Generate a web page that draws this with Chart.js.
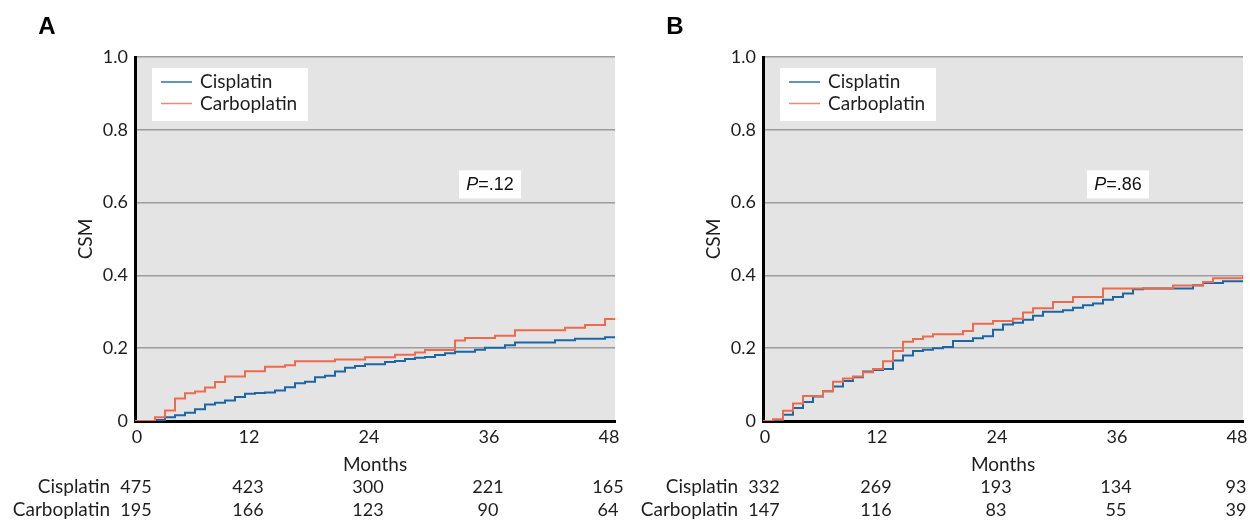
<!DOCTYPE html>
<html><head><meta charset="utf-8">
<script src="https://cdn.jsdelivr.net/npm/chart.js@4.4.1/dist/chart.umd.min.js"></script>
<style>
html,body{margin:0;padding:0;background:#fff;width:1250px;height:523px;overflow:hidden}
#wa{position:absolute;left:0;top:0;width:625px;height:523px}
#wb{position:absolute;left:628px;top:0;width:625px;height:523px}
</style></head><body>
<div id="wa"><canvas id="ca"></canvas></div>
<div id="wb"><canvas id="cb"></canvas></div>
<script>
// ---- data ----
const monthTicks = [0, 12, 24, 36, 48];
const seriesNames = ['Cisplatin', 'Carboplatin'];

const cisA_months = [0,2,3,4,5,6,7,8,9,10,11,12,13,14,15,16,17,18,19,20,21,22,23,25,26,27,28,29,30,31,32,34,35,37,38,42,44,47,48];
const cisA_values = [0,0.003,0.010,0.016,0.023,0.032,0.045,0.050,0.056,0.066,0.075,0.077,0.078,0.084,0.093,0.104,0.108,0.120,0.124,0.136,0.146,0.151,0.156,0.162,0.165,0.170,0.174,0.176,0.181,0.186,0.190,0.196,0.201,0.208,0.216,0.222,0.226,0.230,0.230];

const carA_months = [0,2,3,4,5,6,7,8,9,11,13,15,16,20,23,26,28,29,32,33,36,38,43,45,47,48];
const carA_values = [0,0.010,0.029,0.062,0.076,0.081,0.092,0.107,0.122,0.137,0.149,0.153,0.164,0.169,0.175,0.182,0.188,0.195,0.221,0.228,0.234,0.249,0.256,0.264,0.280,0.280];

const cisB_months = [0,2,3,4,5,6,7,8,9,10,11,12,13,14,15,16,17,18,19,21,22,23,24,25,26,27,28,30,31,32,33,34,35,36,37,38,43,44,46,48];
const cisB_values = [0,0.017,0.036,0.052,0.067,0.082,0.095,0.110,0.120,0.136,0.140,0.143,0.166,0.180,0.192,0.196,0.200,0.203,0.220,0.227,0.233,0.251,0.265,0.270,0.278,0.289,0.300,0.304,0.311,0.318,0.323,0.333,0.341,0.350,0.362,0.364,0.373,0.379,0.384,0.387];

const carB_months = [0,1,2,3,4,6,7,8,9,10,11,12,13,14,15,16,17,20,21,23,25,26,27,29,31,34,41,44,45,48];
const carB_values = [0,0.005,0.028,0.048,0.069,0.082,0.108,0.117,0.122,0.134,0.143,0.164,0.192,0.218,0.225,0.232,0.238,0.247,0.267,0.275,0.281,0.298,0.310,0.327,0.341,0.364,0.372,0.382,0.392,0.401];

const riskA_cis = [475, 423, 300, 221, 165];
const riskA_car = [195, 166, 123, 90, 64];
const riskB_cis = [332, 269, 193, 134, 93];
const riskB_car = [147, 116, 83, 55, 39];

const pA = '.12';
const pB = '.86';

// ---- styles ----
const BLUE = '#1c67a3';
const ORANGE = '#ee6a4c';
const FONT = 'Lato, "Noto Sans", sans-serif';
const TXT = '#1e1e1e';

function toPts(m, v) { return m.map((x, i) => ({x: x, y: v[i]})); }
function colShift(t) { return t === 0 ? 2 : -6; }

function makeChart(id, letter, cm, cv, om, ov, rc, ro, pval) {
  const deco = {
    id: 'deco' + id,
    beforeDraw(chart) {
      const {ctx, chartArea: a} = chart;
      ctx.save();
      ctx.fillStyle = '#e4e4e4';
      ctx.fillRect(a.left, a.top, a.right - a.left, a.bottom - a.top);
      ctx.restore();
    },
    afterDatasetsDraw(chart) {
      const {ctx, chartArea: a, scales} = chart;
      ctx.save();
      // legend
      const lx = a.left + 17, ly = a.top + 11;
      ctx.fillStyle = '#fff';
      ctx.fillRect(lx, ly, 156, 53);
      const cols = ['#2a70ac', '#f08a78'];
      seriesNames.forEach((n, i) => {
        const yy = ly + 14 + i * 21.5;
        ctx.strokeStyle = cols[i];
        ctx.lineWidth = 1.5;
        ctx.beginPath();
        ctx.moveTo(lx + 9, yy); ctx.lineTo(lx + 40, yy); ctx.stroke();
        ctx.fillStyle = TXT;
        ctx.font = '19px ' + FONT;
        ctx.textBaseline = 'middle';
        ctx.textAlign = 'left';
        ctx.fillText(n, lx + 48, yy);
      });
      // P value box
      const px = scales.x.getPixelForValue(35.5);
      const py = scales.y.getPixelForValue(0.65);
      ctx.fillStyle = '#fff';
      ctx.fillRect(px - 31, py - 14, 62, 28);
      ctx.fillStyle = '#111';
      ctx.textBaseline = 'middle';
      const fi = 'italic 18px "Liberation Sans", Arial, sans-serif';
      const fn = '18px "Liberation Sans", Arial, sans-serif';
      ctx.font = fi;
      const w1 = ctx.measureText('P').width;
      ctx.font = fn;
      const w2 = ctx.measureText('=' + pval).width;
      const sx = px - (w1 + w2) / 2;
      ctx.textAlign = 'left';
      ctx.font = fi;
      ctx.fillText('P', sx, py + 1);
      ctx.font = fn;
      ctx.fillText('=' + pval, sx + w1, py + 1);
      ctx.restore();
    },
    afterDraw(chart) {
      const {ctx, scales, chartArea: a} = chart;
      ctx.save();
      // panel letter
      ctx.fillStyle = '#000';
      ctx.font = 'bold 24px "Liberation Sans", Arial, sans-serif';
      ctx.textAlign = 'center';
      ctx.textBaseline = 'alphabetic';
      ctx.fillText(letter, 47, 34);
      // x tick labels
      ctx.fillStyle = TXT;
      ctx.textBaseline = 'middle';
      ctx.font = '18px ' + FONT;
      ctx.textAlign = 'center';
      monthTicks.forEach(t => {
        ctx.fillText(String(t), scales.x.getPixelForValue(t) + colShift(t), a.bottom + 16);
      });
      // numbers at risk
      const rows = [[seriesNames[0], rc, 487], [seriesNames[1], ro, 510]];
      rows.forEach(([name, vals, yy]) => {
        ctx.font = '19px ' + FONT;
        ctx.textAlign = 'right';
        ctx.fillText(name, 110, yy);
        ctx.font = '18px ' + FONT;
        ctx.textAlign = 'center';
        monthTicks.forEach((t, i) => {
          ctx.fillText(String(vals[i]), scales.x.getPixelForValue(t) + colShift(t) - 1, yy);
        });
      });
      ctx.restore();
    }
  };

  return new Chart(document.getElementById(id), {
    type: 'line',
    data: {
      datasets: [
        {label: seriesNames[0], data: toPts(cm, cv), borderColor: BLUE, borderWidth: 2, pointRadius: 0, stepped: 'before', fill: false, order: 1},
        {label: seriesNames[1], data: toPts(om, ov), borderColor: ORANGE, borderWidth: 2, pointRadius: 0, stepped: 'before', fill: false, order: 0}
      ]
    },
    options: {
      responsive: true,
      maintainAspectRatio: false,
      animation: false,
      events: [],
      layout: {padding: {left: 0, top: 57, right: 10, bottom: 0}},
      plugins: {legend: {display: false}, tooltip: {enabled: false}},
      scales: {
        x: {
          type: 'linear', min: 0, max: 48,
          afterBuildTicks: s => { s.ticks = monthTicks.map(v => ({value: v})); },
          afterFit: s => { s.height = 102; s.paddingRight = 0; s.paddingLeft = 0; },
          grid: {display: false, drawTicks: false},
          border: {display: true, color: '#000', width: 3},
          ticks: {display: false},
          title: {display: true, text: 'Months', color: TXT, font: {family: FONT, size: 19}, padding: {top: 0, bottom: 47}}
        },
        y: {
          type: 'linear', min: 0, max: 1,
          afterFit: s => { s.width = 135; },
          ticks: {stepSize: 0.2, padding: 7, color: TXT, font: {family: FONT, size: 18},
                  callback: v => (Math.abs(v) < 1e-9 ? '0' : Number(v).toFixed(1))},
          grid: {color: '#9c9c9c', lineWidth: 1.5, drawTicks: false},
          border: {display: true, color: '#000', width: 3},
          title: {display: true, text: 'CSM', color: TXT, font: {family: FONT, size: 19}, padding: {top: 74, bottom: 0}}
        }
      }
    },
    plugins: [deco]
  });
}

makeChart('ca', 'A', cisA_months, cisA_values, carA_months, carA_values, riskA_cis, riskA_car, pA);
makeChart('cb', 'B', cisB_months, cisB_values, carB_months, carB_values, riskB_cis, riskB_car, pB);
</script>
</body></html>
